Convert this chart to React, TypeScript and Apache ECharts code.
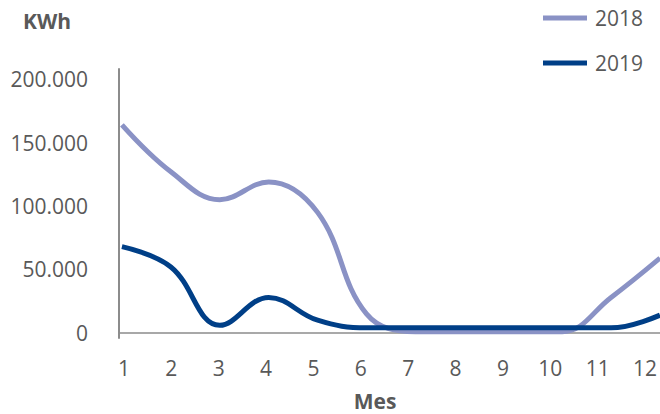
import React, { useEffect, useRef } from "react";
import * as echarts from "echarts";

const months = ["1", "2", "3", "4", "5", "6", "7", "8", "9", "10", "11", "12"];
const monthValues = [1, 2, 3, 4, 5, 6, 7, 8, 9, 10, 11, 12];
const values2018 = [164000, 127000, 105000, 119000, 95000, 15000, 1000, 1000, 1000, 1000, 28000, 59000];
const values2019 = [68000, 52000, 6000, 28000, 10000, 4000, 4000, 4000, 4000, 4000, 4000, 14000];
const yTicks = [0, 50000, 100000, 150000, 200000];
const seriesNames = ["2018", "2019"];

const FONT = "Open Sans";
const TEXT = "#595959";

function fmt(v: number): string {
  return Math.round(v).toString().replace(/\B(?=(\d{3})+(?!\d))/g, ".");
}

export default function App() {
  const ref = useRef<HTMLDivElement>(null);
  useEffect(() => {
    if (!ref.current) return;
    const chart = echarts.init(ref.current, undefined, { renderer: "svg" });
    chart.setOption({
      animation: false,
      backgroundColor: "#ffffff",
      textStyle: { fontFamily: FONT },
      legend: {
        data: seriesNames,
        orient: "vertical",
        left: 543,
        top: 6,
        padding: 0,
        itemGap: 21,
        itemWidth: 44,
        itemHeight: 5,
        icon: "rect",
        textStyle: { fontFamily: FONT, fontSize: 21, color: TEXT, lineHeight: 24, padding: [0, 0, 0, 3] },
      },
      grid: [
        { left: 119, right: 0, top: 69, bottom: 76 },
        { left: 124, right: 15, top: 69, bottom: 76 },
      ],
      xAxis: [
        {
          type: "value",
          gridIndex: 0,
          min: 0.94,
          max: 12,
          axisLine: { show: true, lineStyle: { color: "#8c8c8c", width: 1.5 } },
          axisTick: { show: false },
          axisLabel: { show: false },
          splitLine: { show: false },
        },
        {
          type: "category",
          gridIndex: 1,
          data: months,
          boundaryGap: false,
          axisLine: { show: false },
          axisTick: { show: false },
          splitLine: { show: false },
          axisLabel: { fontFamily: FONT, fontSize: 21, color: TEXT, margin: 19, interval: 0 },
        },
      ],
      yAxis: [
        {
          type: "value",
          gridIndex: 0,
          min: -4000,
          max: 208000,
          axisLine: { show: true, lineStyle: { color: "#8c8c8c", width: 2 } },
          axisTick: { show: false },
          splitLine: { show: false },
          axisLabel: {
            customValues: yTicks,
            formatter: (v: number) => fmt(v),
            fontFamily: FONT,
            fontSize: 21,
            color: TEXT,
            margin: 31,
          },
        },
        {
          type: "value",
          gridIndex: 1,
          show: false,
        },
      ],
      series: [
        {
          name: seriesNames[0],
          type: "line",
          xAxisIndex: 0,
          yAxisIndex: 0,
          data: monthValues.map((m, i) => [m, values2018[i]]),
          smooth: 0.4,
          showSymbol: false,
          symbol: "none",
          lineStyle: { color: "#8a92c5", width: 5 },
          itemStyle: { color: "#8a92c5" },
        },
        {
          name: seriesNames[1],
          type: "line",
          xAxisIndex: 0,
          yAxisIndex: 0,
          data: monthValues.map((m, i) => [m, values2019[i]]),
          smooth: 0.4,
          showSymbol: false,
          symbol: "none",
          lineStyle: { color: "#003f87", width: 5 },
          itemStyle: { color: "#003f87" },
        },
      ],
      graphic: [
        {
          type: "text",
          x: 47,
          y: 21,
          style: {
            text: "KWh",
            font: `bold 21px "${FONT}"`,
            fill: TEXT,
            textAlign: "center",
            textVerticalAlign: "middle",
          },
        },
        {
          type: "text",
          x: 375,
          y: 401,
          style: {
            text: "Mes",
            font: `bold 21px "${FONT}"`,
            fill: TEXT,
            textAlign: "center",
            textVerticalAlign: "middle",
          },
        },
      ],
    });
    return () => chart.dispose();
  }, []);
  return (
    <div
      ref={ref}
      style={{ position: "absolute", left: 0, top: 0, width: 660, height: 414 }}
    />
  );
}
